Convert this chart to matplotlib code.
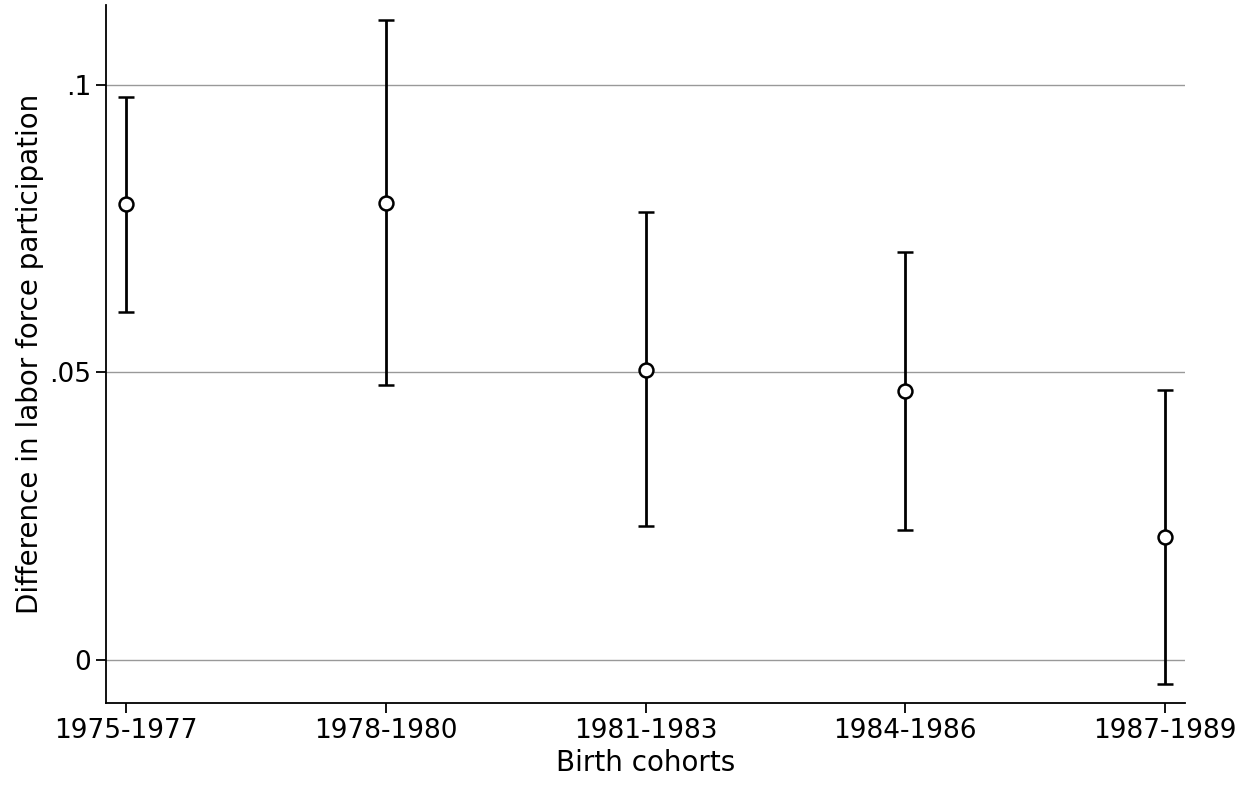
import matplotlib
matplotlib.use('Agg')
import matplotlib.pyplot as plt
import numpy as np

cohorts = ['1975-1977', '1978-1980', '1981-1983', '1984-1986', '1987-1989']
estimate = [0.0793, 0.0795, 0.0504, 0.0468, 0.0214]
upper = [0.0979, 0.1113, 0.0779, 0.0710, 0.0470]
lower = [0.0605, 0.0478, 0.0233, 0.0226, -0.0042]

fig = plt.figure(figsize=(12.5, 7.93), dpi=100)
ax = fig.add_axes([0.0848, 0.1135, 0.8632, 0.8802])

x = np.arange(len(cohorts))
est = np.array(estimate)
err = [est - np.array(lower), np.array(upper) - est]
ax.errorbar(x, est, yerr=err, fmt='o', mfc='white', mec='black', ms=10, mew=1.8,
            ecolor='black', elinewidth=2, capsize=6, capthick=2, color='black', zorder=3)

ax.set_xlim(-0.077, 4.077)
ax.set_ylim(-0.0075, 0.1139)
ax.set_yticks([0, 0.05, 0.1])
ax.set_yticklabels(['0', '.05', '.1'], fontsize=19)
ax.set_xticks(x)
ax.set_xticklabels(cohorts, fontsize=19)
ax.yaxis.grid(True, color='#999999', linewidth=1)
ax.set_axisbelow(True)
for s in ['top', 'right']:
    ax.spines[s].set_visible(False)
ax.spines['left'].set_linewidth(1.3)
ax.spines['bottom'].set_linewidth(1.3)
ax.tick_params(length=7, width=1.3)
ax.set_xlabel('Birth cohorts', fontsize=20)
ax.set_ylabel('Difference in labor force participation', fontsize=20)

fig.savefig('out.png', dpi=100, facecolor='white')
